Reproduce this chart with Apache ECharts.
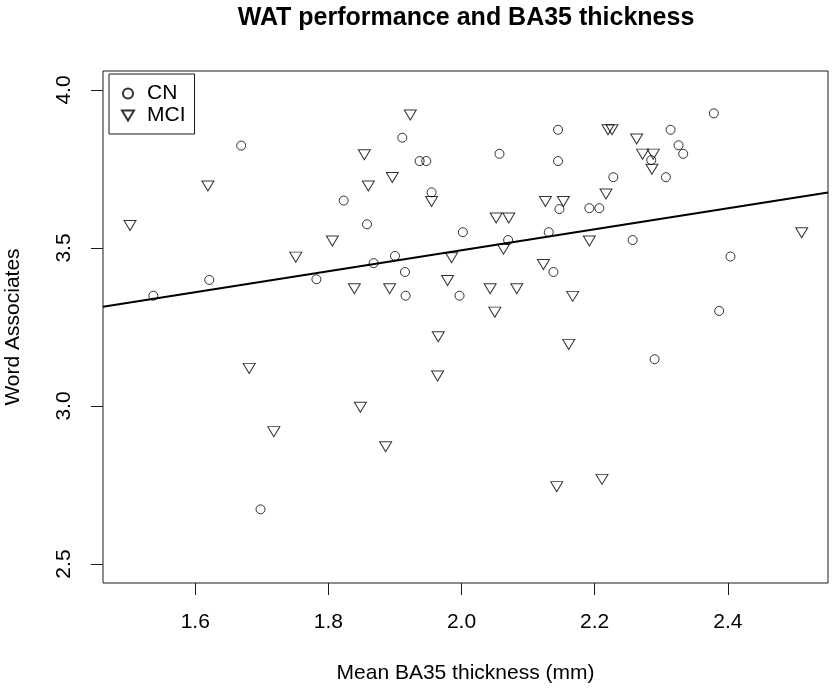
<!DOCTYPE html>
<html>
<head>
<meta charset="utf-8">
<script src="https://cdn.jsdelivr.net/npm/echarts@6/dist/echarts.min.js"></script>
<style>html,body{margin:0;padding:0;background:#fff}#c{width:834px;height:692px}</style>
</head>
<body>
<div id="c"></div>
<script>
// ---- data ----
var cnX = [1.669,1.621,1.537,1.782,1.823,1.911,1.937,1.947,2.057,2.145,2.145,1.955,2.147,1.858,2.002,2.131,2.070,1.868,1.900,1.915,2.138,1.916,1.997,2.379,2.314,2.326,2.333,2.285,2.307,2.228,2.192,2.207,2.257,2.404,2.387,1.698,2.290];
var cnY = [3.824,3.399,3.349,3.401,3.650,3.849,3.775,3.775,3.798,3.874,3.775,3.676,3.623,3.575,3.550,3.550,3.525,3.452,3.475,3.424,3.424,3.349,3.349,3.926,3.874,3.825,3.798,3.778,3.724,3.724,3.626,3.626,3.525,3.473,3.301,2.673,3.148];
var mciX = [1.619,1.502,1.751,1.806,1.923,1.854,1.896,1.860,1.955,2.126,2.153,2.052,2.071,2.063,1.985,2.123,1.979,1.839,1.892,2.043,2.083,2.050,2.167,2.220,2.226,2.263,2.272,2.288,2.286,2.217,2.192,2.511,1.965,2.161,1.964,1.848,1.886,2.143,1.681,1.718,2.211];
var mciY = [3.696,3.571,3.471,3.522,3.921,3.795,3.723,3.696,3.647,3.647,3.647,3.595,3.595,3.496,3.469,3.448,3.397,3.371,3.371,3.371,3.371,3.297,3.347,3.874,3.874,3.845,3.797,3.797,3.749,3.671,3.522,3.548,3.219,3.195,3.095,2.996,2.871,2.745,3.119,2.919,2.768];
var fitIntercept = 2.828;
var fitSlope = 0.3324;
var xTicks = [1.6, 1.8, 2.0, 2.2, 2.4];
var yTicks = [2.5, 3.0, 3.5, 4.0];
var seriesNames = ['CN', 'MCI'];

// ---- chart ----
var xMin = 1.4614, xMax = 2.5505, yMin = 2.44, yMax = 4.06;
var FONT = '"Liberation Sans", Arial, sans-serif';
var INK = '#1a1a1a';
var TRI = 'path://M0,0 L12,0 L6,10 Z';

function zip(a, b) { return a.map(function (v, i) { return [v, b[i]]; }); }
var fitLine = [[xMin, fitIntercept + fitSlope * xMin], [xMax, fitIntercept + fitSlope * xMax]];

var chart = echarts.init(document.getElementById('c'), null, {renderer: 'canvas'});
chart.setOption({
  animation: false,
  backgroundColor: '#fff',
  title: {
    text: 'WAT performance and BA35 thickness',
    left: 466, top: 6, padding: 0, textAlign: 'center',
    textStyle: {fontFamily: FONT, fontSize: 25, fontWeight: 'bold', color: '#000'}
  },
  grid: {left: 103, right: 6, top: 71, bottom: 109, show: true, borderColor: INK, borderWidth: 1,
    backgroundColor: 'transparent', containLabel: false, outerBoundsMode: 'none'},
  legend: {
    orient: 'vertical', left: 109, top: 74,
    padding: [9, 9, 8, 12], itemGap: 1,
    itemWidth: 12, itemHeight: 10,
    borderColor: INK, borderWidth: 1,
    textStyle: {fontFamily: FONT, fontSize: 21, color: '#000', padding: [0, 0, 0, 8]},
    data: [{name: seriesNames[0], icon: 'circle'}, {name: seriesNames[1], icon: TRI}]
  },
  xAxis: {
    type: 'value', min: xMin, max: xMax,
    name: 'Mean BA35 thickness (mm)', nameLocation: 'middle', nameGap: 80,
    nameTextStyle: {fontFamily: FONT, fontSize: 21, color: '#000'},
    axisLine: {show: false},
    axisTick: {show: true, inside: false, length: 12, customValues: xTicks, lineStyle: {color: INK}},
    axisLabel: {customValues: xTicks, margin: 29, fontFamily: FONT, fontSize: 21, color: '#000',
      formatter: function (v) { return v.toFixed(1); }},
    splitLine: {show: false}
  },
  yAxis: {
    type: 'value', min: yMin, max: yMax,
    name: 'Word Associates', nameLocation: 'middle', nameGap: 79,
    nameTextStyle: {fontFamily: FONT, fontSize: 21, color: '#000'},
    axisLine: {show: false},
    axisTick: {show: true, inside: false, length: 12, customValues: yTicks, lineStyle: {color: INK}},
    axisLabel: {customValues: yTicks, rotate: 90, margin: 28, fontFamily: FONT, fontSize: 21, color: '#000',
      formatter: function (v) { return v.toFixed(1); }},
    splitLine: {show: false}
  },
  series: [
    {name: seriesNames[0], type: 'scatter', data: zip(cnX, cnY), symbol: 'circle', symbolSize: 9,
      itemStyle: {color: 'rgba(0,0,0,0)', borderColor: '#000', borderWidth: 1}},
    {name: seriesNames[1], type: 'scatter', data: zip(mciX, mciY), symbol: TRI, symbolSize: [12, 10],
      itemStyle: {color: 'rgba(0,0,0,0)', borderColor: '#000', borderWidth: 1}},
    {name: 'fit', type: 'line', data: fitLine, symbol: 'none', silent: true,
      lineStyle: {color: '#000', width: 2}}
  ]
});
</script>
</body>
</html>
